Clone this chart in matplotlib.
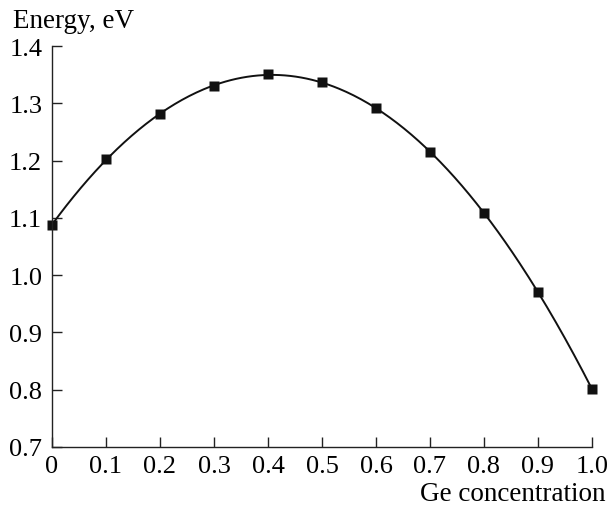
import numpy as np
import matplotlib
matplotlib.use("Agg")
import matplotlib.pyplot as plt

ge_conc = [0.0, 0.1, 0.2, 0.3, 0.4, 0.5, 0.6, 0.7, 0.8, 0.9, 1.0]
energy = [1.088, 1.202, 1.281, 1.330, 1.351, 1.337, 1.291, 1.215, 1.108, 0.971, 0.801]
x_ticks = [0.0, 0.1, 0.2, 0.3, 0.4, 0.5, 0.6, 0.7, 0.8, 0.9, 1.0]
x_tick_labels = ["0", "0.1", "0.2", "0.3", "0.4", "0.5", "0.6", "0.7", "0.8", "0.9", "1.0"]
y_ticks = [0.7, 0.8, 0.9, 1.0, 1.1, 1.2, 1.3, 1.4]
y_tick_labels = ["0.7", "0.8", "0.9", "1.0", "1.1", "1.2", "1.3", "1.4"]

plt.rcParams['font.family'] = ['Liberation Serif', 'DejaVu Serif']

fig = plt.figure(figsize=(6.11, 5.06), dpi=100)
ax = fig.add_axes([52/611, 58/506, 540/611, 401/506])

coef = np.polyfit(ge_conc, energy, 3)
xs = np.linspace(0, 1, 300)
ax.plot(xs, np.polyval(coef, xs), color='#111111', lw=1.4)
ax.plot(ge_conc, energy, 's', color='#111111', ms=7.5, mec='none', clip_on=False)

ax.set_xlim(0, 1.0)
ax.set_ylim(0.7, 1.4)
ax.set_xticks(x_ticks)
ax.set_xticklabels(x_tick_labels)
ax.set_yticks(y_ticks)
ax.set_yticklabels(y_tick_labels)
for s in ['top', 'right']:
    ax.spines[s].set_visible(False)
for s in ['left', 'bottom']:
    ax.spines[s].set_linewidth(1.0)
    ax.spines[s].set_color('#222222')
ax.tick_params(direction='in', length=7, width=1.0, color='#222222', labelsize=19)
ax.tick_params(axis='x', pad=6)
ax.tick_params(axis='y', pad=7)

fig.text(13/611, 1 - 28/506, "Energy, eV", fontsize=19.5, ha='left', va='baseline')
fig.text(606/611, 1 - 501/506, "Ge concentration", fontsize=19.5, ha='right', va='baseline')

fig.savefig("out.png", dpi=100)
